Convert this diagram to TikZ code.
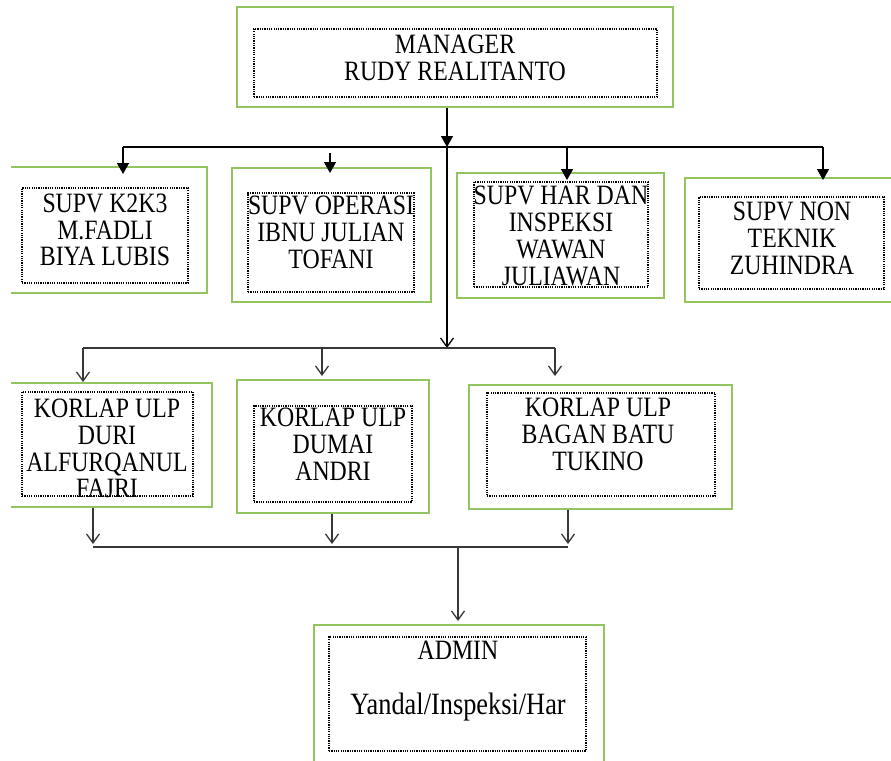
\documentclass[tikz,border=0pt]{standalone}
\usepackage{fontspec}
\setmainfont{Liberation Serif}[FakeStretch=0.85]
\usetikzlibrary{arrows.meta}
\definecolor{boxgreen}{RGB}{146,196,96}
\definecolor{lowline}{RGB}{55,55,55}
\tikzset{
  unitbox/.style={draw=boxgreen, line width=2pt, inner sep=0pt},
  dotbox/.style={draw, line width=1.2pt, dash pattern=on 1.2pt off 1.1pt, inner sep=0pt},
  lbl/.style={align=center, inner sep=0pt, font=\fontsize{28}{26.8}\selectfont},
  hi/.style={line width=1.5pt, -{Triangle[length=11pt,width=12pt]}},
  lo/.style={draw=lowline, line width=1.3pt, -{Straight Barb[length=9pt,width=13pt]}}
}
\begin{document}
\begin{tikzpicture}[x=1pt,y=-1pt]
  \useasboundingbox (0,0) rectangle (891,760);
  \clip (11,0) rectangle (891,760);
  \node[unitbox, minimum width=436pt, minimum height=100pt] (mgr) at (455,57) {};
  \node[dotbox, minimum width=403pt, minimum height=68pt] (mgrd) at (455.5,63) {};
  \node[lbl] (mgrt) at (455,58) {MANAGER\\RUDY REALITANTO};

  \node[unitbox, minimum width=202pt, minimum height=126pt] (s1) at (106,230) {};
  \node[dotbox, minimum width=166pt, minimum height=95pt] (s1d) at (105,235.5) {};
  \node[lbl] (s1t) at (105,230) {SUPV K2K3\\M.FADLI\\BIYA LUBIS};
  \node[unitbox, minimum width=199pt, minimum height=134pt] (s2) at (331.5,235) {};
  \node[dotbox, minimum width=166pt, minimum height=99pt] (s2d) at (331,242.5) {};
  \node[lbl] (s2t) at (331,232.5) {SUPV OPERASI\\IBNU JULIAN\\TOFANI};
  \node[unitbox, minimum width=207pt, minimum height=125pt] (s3) at (560.5,235.5) {};
  \node[dotbox, minimum width=174pt, minimum height=105pt] (s3d) at (561,234.5) {};
  \node[lbl] (s3t) at (561,236) {SUPV HAR DAN\\INSPEKSI\\WAWAN\\JULIAWAN};
  \node[unitbox, minimum width=215pt, minimum height=124pt] (s4) at (792.5,240) {};
  \node[dotbox, minimum width=185pt, minimum height=92pt] (s4d) at (791.5,243) {};
  \node[lbl] (s4t) at (792,238.5) {SUPV NON\\TEKNIK\\ZUHINDRA};

  \node[unitbox, minimum width=207pt, minimum height=124pt] (k1) at (108.5,445) {};
  \node[dotbox, minimum width=171pt, minimum height=104pt] (k1d) at (107.5,444) {};
  \node[lbl] (k1t) at (107,448.5) {KORLAP ULP\\DURI\\ALFURQANUL\\FAJRI};
  \node[unitbox, minimum width=192pt, minimum height=133pt] (k2) at (333,446.5) {};
  \node[dotbox, minimum width=158pt, minimum height=96pt] (k2d) at (333,454) {};
  \node[lbl] (k2t) at (333,444.5) {KORLAP ULP\\DUMAI\\ANDRI};
  \node[unitbox, minimum width=263pt, minimum height=124pt] (k3) at (600.5,447) {};
  \node[dotbox, minimum width=228pt, minimum height=103pt] (k3d) at (601,444.5) {};
  \node[lbl] (k3t) at (598,434.5) {KORLAP ULP\\BAGAN BATU\\TUKINO};

  \node[unitbox, minimum width=290pt, minimum height=145pt] (adm) at (459,697.5) {};
  \node[dotbox, minimum width=257pt, minimum height=114pt] (admd) at (457.5,694) {};
  \node[lbl] (admt) at (458,681) {ADMIN\\[28pt]{\fontsize{31}{30}\selectfont Yandal/Inspeksi/Har}};

  \coordinate (hub) at (447,147);
  \coordinate (busl) at (123,147);
  \coordinate (bus2) at (330,147);
  \coordinate (bus3) at (567,147);
  \coordinate (busr) at (823,147);
  \draw[hi] (mgr.south -| hub) -- (hub);
  \draw[line width=1.5pt] (busl) -- (busr);
  \draw[hi, shorten >=-8pt] (busl) -- (s1.north -| busl);
  \draw[hi, shorten <=6pt, shorten >=-6pt] (bus2) -- (s2.north -| bus2);
  \draw[hi, shorten >=-8pt] (bus3) -- (s3.north -| bus3);
  \draw[hi, shorten >=-3pt] (busr) -- (s4.north -| busr);

  \coordinate (kbus) at (447,348);
  \coordinate (kl) at (83,348);
  \coordinate (km) at (322,348);
  \coordinate (kr) at (555,348);
  \draw[lo, draw=black] (hub) -- (kbus);
  \draw[draw=lowline, line width=1.3pt] (kl) -- (kr);
  \draw[lo] (kl) -- (k1.north -| kl);
  \draw[lo, shorten >=3pt] (km) -- (k2.north -| km);
  \draw[lo, shorten >=8pt] (kr) -- (k3.north -| kr);

  \coordinate (al) at (93,547);
  \coordinate (am) at (332,547);
  \coordinate (ar) at (568,547);
  \coordinate (ad) at (458,547);
  \draw[lo, shorten >=3pt] (k1.south -| al) -- (al);
  \draw[lo, shorten >=3pt] (k2.south -| am) -- (am);
  \draw[lo, shorten >=3pt] (k3.south -| ar) -- (ar);
  \draw[draw=lowline, line width=1.3pt] (al) -- (ar);
  \draw[lo, shorten >=3pt] (ad) -- (adm.north -| ad);
\end{tikzpicture}
\end{document}
